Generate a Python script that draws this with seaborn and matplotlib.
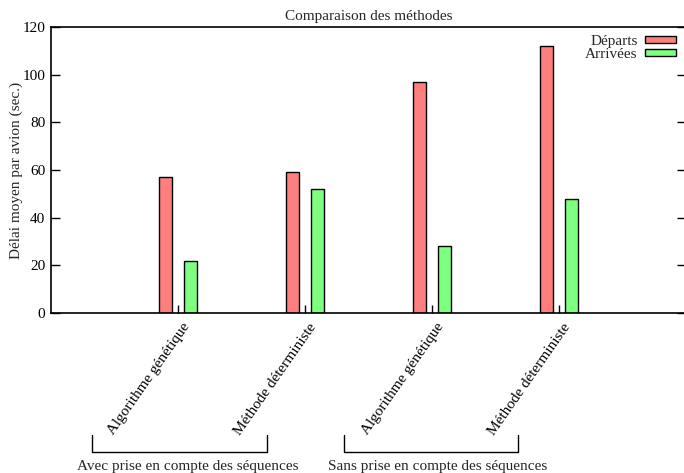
import matplotlib
matplotlib.use("Agg")
import matplotlib.pyplot as plt
import matplotlib.transforms as mtransforms
from matplotlib.patches import Patch
import seaborn as sns
import pandas as pd

# ---- data ----
methods = ["Algorithme génétique", "Méthode déterministe",
           "Algorithme génétique", "Méthode déterministe"]
slots = ["A1", "A2", "S1", "S2"]
groups = ["Avec prise en compte des séquences", "Sans prise en compte des séquences"]
series = ["Départs", "Arrivées"]
departs = [57, 59, 97, 112]
arrivees = [22, 52, 28, 48]
yticks = [0, 20, 40, 60, 80, 100, 120]

sns.set_theme(style="white")
plt.rcParams["font.family"] = ["Liberation Serif", "DejaVu Serif"]
plt.rcParams["font.size"] = 11

rows = []
for s, d, a in zip(slots, departs, arrivees):
    rows.append({"slot": s, "serie": series[0], "val": d})
    rows.append({"slot": s, "serie": series[1], "val": a})
df = pd.DataFrame(rows)

colors = ["#ff7f7f", "#7fff7f"]

fig = plt.figure(figsize=(6.84, 4.73), dpi=100)
W, H = 684, 473
ax = fig.add_axes([51 / W, 1 - 313 / H, 635 / W, 286 / H])

sns.barplot(data=df, x="slot", y="val", hue="serie", order=slots,
            hue_order=series, palette=colors, saturation=1,
            width=0.4, gap=0.5, edgecolor="black", linewidth=1,
            legend=False, ax=ax, errorbar=None)

ax.set_xlim(-1, 4)
ax.set_ylim(0, 120)
ax.set_yticks(yticks)
ax.set_yticklabels([str(t) for t in yticks], fontsize=11)
ax.set_xticks(range(len(slots)))
ax.set_xticklabels(methods, rotation=55, ha="right", va="center",
                   rotation_mode="anchor", fontsize=11)
ax.set_xlabel("")
ax.set_ylabel("Délai moyen par avion (sec.)", fontsize=11, labelpad=0)
ax.set_title("Comparaison des méthodes", fontsize=11, pad=5)

for sp in ax.spines.values():
    sp.set_color("black")
    sp.set_linewidth(1.2)

ax.tick_params(axis="y", direction="in", length=6.5, width=1, left=True,
               right=True, pad=4, colors="black")
ax.tick_params(axis="x", direction="in", length=5.5, width=1, bottom=True,
               top=False, pad=4, colors="black")
# shift x tick labels slightly
offset = mtransforms.ScaledTranslation(9 / 100, -6 / 100, fig.dpi_scale_trans)
for lab in ax.get_xticklabels():
    lab.set_transform(lab.get_transform() + offset)

# group brackets
trans = mtransforms.blended_transform_factory(ax.transData, ax.transAxes)
def xd(px):
    return -1 + (px - 51) / 127.0
def ya(py):
    return (313 - py) / 286.0
brackets = [(92, 267, 188), (344, 518, 438)]
for (x0, x1, xc), g in zip(brackets, groups):
    ax.plot([xd(x0), xd(x0), xd(x1), xd(x1)],
            [ya(435), ya(452), ya(452), ya(435)],
            transform=trans, color="black", lw=1, clip_on=False)
    ax.text(xd(xc), ya(466), g, transform=trans, ha="center", va="center",
            fontsize=11)

handles = [Patch(facecolor=c, edgecolor="black", linewidth=1) for c in colors]
fig.legend(handles, series, loc="upper right",
           bbox_to_anchor=(676 / W, 1 - 35 / H), frameon=False,
           markerfirst=False, handlelength=2.0, handleheight=0.4,
           handletextpad=0.5, labelspacing=0.0, borderpad=0,
           borderaxespad=0, fontsize=11)

fig.savefig("out.png", dpi=100)
